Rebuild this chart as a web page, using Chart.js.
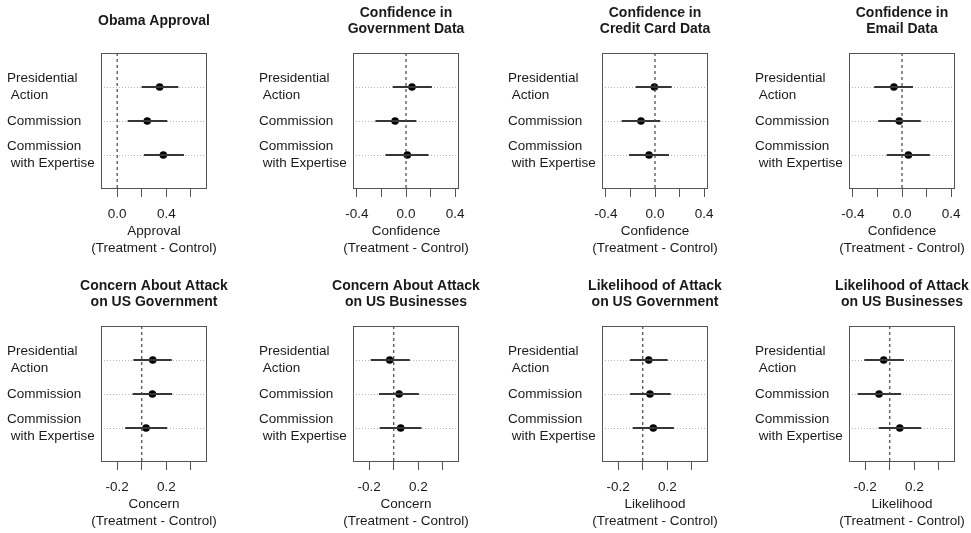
<!DOCTYPE html>
<html>
<head>
<meta charset="utf-8">
<title>Treatment effects by condition</title>
<script src="https://cdn.jsdelivr.net/npm/chart.js@4.4.1/dist/chart.umd.min.js"></script>
<style>
  html, body { margin: 0; padding: 0; background: #fff; }
  #wrap { position: relative; width: 971px; height: 533px; overflow: hidden; }
  #wrap canvas { position: absolute; }
</style>
</head>
<body>
<div id="wrap"></div>
<script>
const FONT = "'Liberation Sans', Arial, Helvetica, sans-serif";
const INK = '#1a1a1a';

// conditions, top to bottom
const conditions = [['Presidential', ' Action'], 'Commission', ['Commission', ' with Expertise']];

const panelTitles = [
  'Obama Approval',
  ['Confidence in', 'Government Data'],
  ['Confidence in', 'Credit Card Data'],
  ['Confidence in', 'Email Data'],
  ['Concern About Attack', 'on US Government'],
  ['Concern About Attack', 'on US Businesses'],
  ['Likelihood of Attack', 'on US Government'],
  ['Likelihood of Attack', 'on US Businesses']
];
const outcomeNames = ['Approval', 'Confidence', 'Confidence', 'Confidence',
  'Concern', 'Concern', 'Likelihood', 'Likelihood'];

// treatment - control differences with 95% intervals, one row per panel
const estimates = [
  [0.346, 0.245, 0.376],
  [0.049, -0.089, 0.011],
  [-0.005, -0.114, -0.049],
  [-0.066, -0.022, 0.052],
  [0.090, 0.087, 0.035],
  [-0.033, 0.044, 0.057],
  [0.049, 0.059, 0.086],
  [-0.049, -0.087, 0.082]
];
const lowerCI = [
  [0.199, 0.085, 0.218],
  [-0.108, -0.249, -0.168],
  [-0.158, -0.272, -0.212],
  [-0.227, -0.194, -0.125],
  [-0.068, -0.074, -0.134],
  [-0.188, -0.120, -0.115],
  [-0.103, -0.103, -0.081],
  [-0.207, -0.262, -0.090]
];
const upperCI = [
  [0.498, 0.408, 0.544],
  [0.211, 0.084, 0.184],
  [0.136, 0.043, 0.114],
  [0.090, 0.153, 0.227],
  [0.245, 0.248, 0.207],
  [0.131, 0.205, 0.226],
  [0.203, 0.228, 0.254],
  [0.115, 0.093, 0.256]
];

const xMin = [-0.132, -0.432, -0.432, -0.432, -0.332, -0.332, -0.332, -0.332];
const xMax = [0.732, 0.432, 0.432, 0.432, 0.532, 0.532, 0.532, 0.532];

const approvalTicks = [0, 0.2, 0.4, 0.6];
const approvalTickLabels = ['0.0', '', '0.4', ''];
const confidenceTicks = [-0.4, -0.2, 0, 0.2, 0.4];
const confidenceTickLabels = ['-0.4', '', '0.0', '', '0.4'];
const attackTicks = [-0.2, 0, 0.2, 0.4];
const attackTickLabels = ['-0.2', '', '0.2', ''];

const panelTicks = [approvalTicks, confidenceTicks, confidenceTicks, confidenceTicks,
  attackTicks, attackTicks, attackTicks, attackTicks];
const panelTickLabels = [approvalTickLabels, confidenceTickLabels, confidenceTickLabels, confidenceTickLabels,
  attackTickLabels, attackTickLabels, attackTickLabels, attackTickLabels];

// page layout: left / top edge of each plot box
const colLeft = [101, 353, 602, 849];
const rowTop = [53, 326];
const PLOT_W = 106, PLOT_H = 136;
const PAD = 6, AXIS_W = 94;          // same width on the right keeps titles centred on the box
const TITLE_H = 53, XAXIS_H = 34, SUB_H = 39;

// box around the plotting region
const frame = {
  id: 'frame',
  afterDatasetsDraw(chart) {
    const { ctx, chartArea: a } = chart;
    ctx.save();
    ctx.strokeStyle = '#555';
    ctx.lineWidth = 1;
    ctx.strokeRect(a.left + 0.5, a.top + 0.5, a.width - 1, a.height - 1);
    ctx.restore();
  }
};

function buildDatasets(i) {
  const top = conditions.length + 1;
  const ds = [{
    data: [{ x: 0, y: 0 }, { x: 0, y: top }],
    showLine: true,
    borderColor: '#444',
    borderWidth: 1.2,
    borderDash: [3, 3],
    pointRadius: 0
  }];
  conditions.forEach((c, r) => {
    ds.push({
      data: [{ x: lowerCI[i][r], y: r + 1 }, { x: upperCI[i][r], y: r + 1 }],
      showLine: true,
      borderColor: '#363636',
      borderWidth: 2,
      pointRadius: 0
    });
  });
  ds.push({
    data: estimates[i].map((v, r) => ({ x: v, y: r + 1 })),
    pointRadius: 3.8,
    pointBackgroundColor: '#000',
    pointBorderWidth: 0
  });
  return ds;
}

const wrap = document.getElementById('wrap');

panelTitles.forEach((title, i) => {
  const col = i % 4, row = Math.floor(i / 4);
  const canvas = document.createElement('canvas');
  canvas.width = 2 * (PAD + AXIS_W) + PLOT_W;
  canvas.height = TITLE_H + PLOT_H + XAXIS_H + SUB_H;
  canvas.style.left = (colLeft[col] - AXIS_W - PAD) + 'px';
  canvas.style.top = (rowTop[row] - TITLE_H) + 'px';
  wrap.appendChild(canvas);

  const twoLines = Array.isArray(title);
  const ticks = panelTicks[i];
  const tickLabels = panelTickLabels[i];

  new Chart(canvas.getContext('2d'), {
    type: 'scatter',
    data: { datasets: buildDatasets(i) },
    options: {
      responsive: false,
      animation: false,
      events: [],
      layout: { padding: { left: PAD, right: PAD, top: 0, bottom: 0 } },
      plugins: {
        legend: { display: false },
        tooltip: { enabled: false },
        title: {
          display: true,
          text: title,
          color: INK,
          font: { family: FONT, size: 14, weight: 'bold', lineHeight: '16px' },
          padding: twoLines ? { top: 5, bottom: 16 } : { top: 12.7, bottom: 24.3 }
        },
        subtitle: {
          display: true,
          position: 'bottom',
          text: [outcomeNames[i], '(Treatment - Control)'],
          color: INK,
          font: { family: FONT, size: 13.5, lineHeight: '17px' },
          padding: { top: 0, bottom: 5 }
        }
      },
      scales: {
        x: {
          type: 'linear',
          min: xMin[i],
          max: xMax[i],
          afterBuildTicks: s => { s.ticks = ticks.map(v => ({ value: v })); },
          afterFit: s => { s.height = XAXIS_H; },
          grid: { drawOnChartArea: false, drawTicks: true, tickLength: 8, tickColor: '#555', tickWidth: 1 },
          border: { display: false },
          ticks: {
            autoSkip: false,
            maxRotation: 0,
            padding: 9,
            color: INK,
            font: { family: FONT, size: 13.5 },
            callback: (v, k) => tickLabels[k]
          }
        },
        y: {
          type: 'linear',
          min: 0,
          max: conditions.length + 1,
          reverse: true,
          afterBuildTicks: s => { s.ticks = conditions.map((c, r) => ({ value: r + 1 })); },
          afterFit: s => { s.width = AXIS_W; },
          grid: { drawTicks: false, color: '#b5b5b5', lineWidth: 1 },
          border: { display: false, dash: [1, 2] },
          ticks: {
            autoSkip: false,
            crossAlign: 'far',
            padding: 0,
            color: INK,
            font: { family: FONT, size: 13.5, lineHeight: '16.5px' },
            callback: v => conditions[v - 1]
          }
        },
        // empty right-hand spacer, as wide as the label column
        spacer: {
          type: 'linear',
          position: 'right',
          display: true,
          afterFit: s => { s.width = AXIS_W; },
          grid: { display: false },
          border: { display: false },
          ticks: { display: false }
        }
      }
    },
    plugins: [frame]
  });
});
</script>
</body>
</html>
